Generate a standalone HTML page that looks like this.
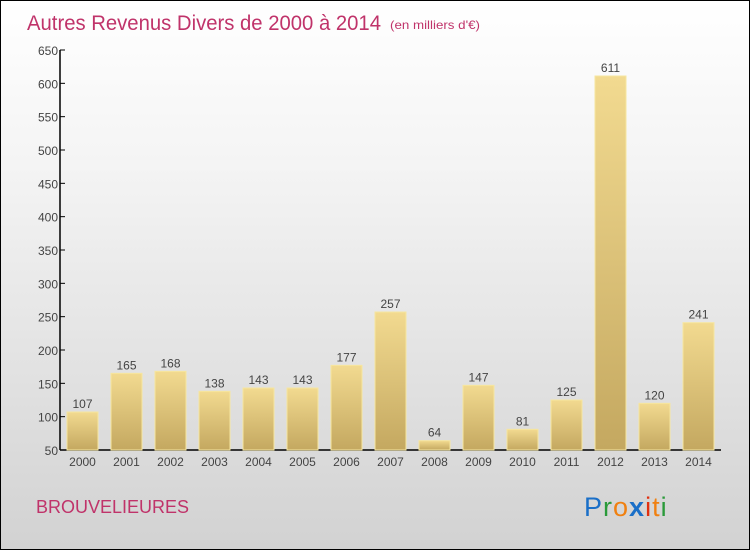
<!DOCTYPE html>
<html><head><meta charset="utf-8"><style>
body{margin:0}
#c{position:relative;width:748px;height:548px;border:1px solid #000;background:linear-gradient(#ffffff,#f4f4f4 30%,#d2d2d2);font-family:"Liberation Sans",sans-serif;overflow:hidden}
</style></head><body>
<div id="c">
<svg width="748" height="548" id="svg">
<defs><linearGradient id="g" x1="0" y1="0" x2="0" y2="1"><stop offset="0" stop-color="#f2da90"/><stop offset="1" stop-color="#c4a860"/></linearGradient></defs>
<text x="26" y="29" font-size="21" fill="#c0336a" textLength="354" lengthAdjust="spacingAndGlyphs">Autres Revenus Divers de 2000 à 2014</text>
<text x="389" y="28" font-size="12" fill="#c0336a" textLength="90" lengthAdjust="spacingAndGlyphs">(en milliers d'€)</text>
<text x="35" y="512" font-size="18" fill="#c0336a">BROUVELIEURES</text>
<text x="583" y="515" font-size="27" letter-spacing="1"><tspan fill="#1a6fc8">P</tspan><tspan fill="#2a9a3a">r</tspan><tspan fill="#f08010">o</tspan><tspan fill="#1a6fc8" font-weight="bold">x</tspan><tspan fill="#e03010">i</tspan><tspan fill="#f08010">t</tspan><tspan fill="#2a9a3a">i</tspan></text>
<g id="plot"></g>
</svg></div>
<script>
const years=["2000","2001","2002","2003","2004","2005","2006","2007","2008","2009","2010","2011","2012","2013","2014"];
const values=[107,165,168,138,143,143,177,257,64,147,81,125,611,120,241];
const ticks=[50,100,150,200,250,300,350,400,450,500,550,600,650];
const ns="http://www.w3.org/2000/svg",p=document.getElementById('plot');
const y=v=>449-(v-50)*400/600, x=i=>81.5+i*44;
function mk(t,a){const e=document.createElementNS(ns,t);for(const k in a)e.setAttribute(k,a[k]);p.appendChild(e);return e;}
let e=mk('line',{x1:59,y1:49,x2:59,y2:449,stroke:'#000','stroke-width':1.5});


e=mk('line',{x1:59,y1:449,x2:720,y2:449,stroke:'#000','stroke-width':1.5});


ticks.forEach(t=>{
 let l=mk('line',{x1:59,x2:64,y1:y(t),y2:y(t),stroke:'#000'});
 
 
 let s=mk('text',{x:57,y:y(t)+5,'text-anchor':'end','font-size':12,fill:'#444'});s.textContent=t;
 
 
});
years.forEach((yr,i)=>{
 const v=values[i];
 let r=mk('rect',{x:x(i)-15.5,y:y(v),width:31,height:449-y(v),fill:'url(#g)',stroke:'#f6e6a0','stroke-width':1});
 
 
 let t=mk('text',{x:x(i),y:y(v)-4,'text-anchor':'middle','font-size':12,fill:'#444'});t.textContent=v;
 
 
 let xl=mk('text',{x:x(i),y:465,'text-anchor':'middle','font-size':12,fill:'#444'});xl.textContent=yr;
 
 
});
</script>
</body></html>
